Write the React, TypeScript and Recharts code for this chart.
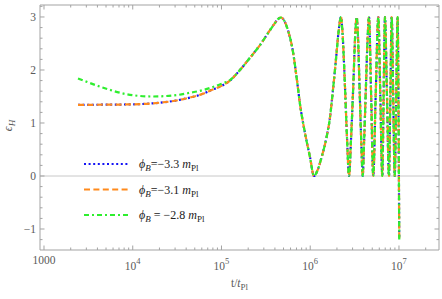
import React from 'react';
import { LineChart, Line, XAxis, YAxis, ReferenceLine, Legend, Label } from 'recharts';

// log10(t / t_Pl) where the three runs still differ
const logTEarly = [3.383, 3.66, 3.94, 4.22, 4.51, 4.645, 4.79, 4.87, 5.0, 5.096];
const eps33Early = [1.34, 1.345, 1.35, 1.37, 1.43, 1.48, 1.55, 1.61, 1.7, 1.8];
const eps31Early = [1.34, 1.345, 1.35, 1.37, 1.43, 1.48, 1.55, 1.61, 1.7, 1.8];
const eps28Early = [1.84, 1.67, 1.54, 1.5, 1.53, 1.57, 1.62, 1.66, 1.74, 1.81];

// after ~1.5e5 all three curves sit on top of each other
const logTLate = [
  5.208, 5.321, 5.434, 5.546, 5.6, 5.637, 5.67, 5.7, 5.749, 5.806, 5.851, 5.885, 5.941, 5.997,
  6.042, 6.085, 6.129, 6.185, 6.223, 6.256, 6.29, 6.318, 6.346, 6.36, 6.39, 6.415, 6.437, 6.46,
  6.485, 6.508, 6.523, 6.535, 6.557, 6.576, 6.591, 6.607, 6.627, 6.648, 6.662, 6.686, 6.71,
  6.738, 6.767, 6.79, 6.812, 6.827, 6.842, 6.865, 6.887, 6.903, 6.918, 6.935, 6.952, 6.969,
  6.985, 6.995, 7.003,
];
const epsLate = [
  2.0, 2.23, 2.47, 2.75, 2.88, 2.96, 2.99, 2.95, 2.75, 2.34, 1.8, 1.35, 0.81, 0.36,
  0, 0.12, 0.36, 0.74, 1.11, 1.62, 2.2, 2.7, 3.0, 2.8, 1.75, 0.7, 0, 0.7,
  1.7, 2.7, 3.0, 2.75, 1.6, 0.6, 0, 0.65, 1.65, 2.65, 3.0, 1.55, 0,
  1.55, 3.0, 1.5, 0, 1.5, 3.0, 1.5, 0, 1.5, 3.0, 1.5, 0, 1.5,
  3.0, 1.2, -1.2,
];

const phiLabels = ['=\u2212' + '3.3', '=\u2212' + '3.1', '\u00a0=\u00a0\u2212' + '2.8'];
const seriesKeys = ['b33', 'b31', 'b28'];
const seriesColors = ['#1414f5', '#ff8a1c', '#2eee2e'];
const seriesDash = ['2 2.6', '6 3.4', '5 3 2 3'];

const xMin = 901.6;
const xMax = 2.825e7;
const yMin = -1.396;
const yMax = 3.226;

const xTicks: number[] = [];
for (const d of [3, 4, 5, 6, 7]) {
  for (const m of [1, 2, 3, 4, 5, 6, 7, 8, 9]) {
    const v = m * 10 ** d;
    if (v >= xMin && v <= xMax) xTicks.push(v);
  }
}
const yTicks = [-1.2, -1, -0.8, -0.6, -0.4, -0.2, 0, 0.2, 0.4, 0.6, 0.8, 1, 1.2, 1.4, 1.6, 1.8, 2, 2.2, 2.4, 2.6, 2.8, 3, 3.2];

const rows = logTEarly
  .map((l, i) => ({ t: 10 ** l, b33: eps33Early[i], b31: eps31Early[i], b28: eps28Early[i] }))
  .concat(logTLate.map((l, i) => ({ t: 10 ** l, b33: epsLate[i], b31: epsLate[i], b28: epsLate[i] })));

const frame = '#a3a3a3';
const serif = '"Liberation Serif", "DejaVu Serif", serif';
const tickFill = '#5a5a5a';

const isDecade = (v: number) => Math.abs(Math.log10(v) - Math.round(Math.log10(v))) < 1e-6;
const isInt = (v: number) => Math.abs(v - Math.round(v)) < 1e-6;

const BottomTick = (p: any) => {
  const v = p.payload.value;
  const major = isDecade(v);
  const exp = Math.round(Math.log10(v));
  return (
    <g>
      <line x1={p.x} x2={p.x} y1={p.y} y2={p.y - (major ? 4.5 : 2.5)} stroke={frame} />
      {major && exp === 3 && (
        <text x={p.x} y={p.y + 14} textAnchor="middle" fontFamily={serif} fontSize={11.5} fill={tickFill}>1000</text>
      )}
      {major && exp > 3 && (
        <text x={p.x} y={p.y + 20} textAnchor="middle" fontFamily={serif} fontSize={11.5} fill={tickFill}>
          <tspan>10</tspan>
          <tspan dy={-6} fontSize={8.5}>{exp}</tspan>
        </text>
      )}
    </g>
  );
};

const TopTick = (p: any) => {
  const major = isDecade(p.payload.value);
  return <line x1={p.x} x2={p.x} y1={p.y} y2={p.y + (major ? 4.5 : 2.5)} stroke={frame} />;
};

const LeftTick = (p: any) => {
  const v = p.payload.value;
  const major = isInt(v);
  const label = v < 0 ? '\u2212' + Math.abs(Math.round(v)) : String(Math.round(v));
  return (
    <g>
      <line x1={p.x} x2={p.x + (major ? 4.5 : 2.5)} y1={p.y} y2={p.y} stroke={frame} />
      {major && (
        <text x={p.x - 4} y={p.y + 4} textAnchor="end" fontFamily={serif} fontSize={11.5} fill={tickFill}>{label}</text>
      )}
    </g>
  );
};

const RightTick = (p: any) => {
  const major = isInt(p.payload.value);
  return <line x1={p.x} x2={p.x - (major ? 4.5 : 2.5)} y1={p.y} y2={p.y} stroke={frame} />;
};

const XTitle = (p: any) => {
  const vb = p.viewBox || { x: 40, y: 250, width: 399, height: 49 };
  return (
    <text x={vb.x + vb.width / 2} y={vb.y + 37} textAnchor="middle" fontFamily={serif} fontSize={11.5} fill={tickFill}>
      <tspan>t/</tspan>
      <tspan fontStyle="italic">t</tspan>
      <tspan dy={3} fontSize={9}>Pl</tspan>
    </text>
  );
};

const YTitle = (p: any) => {
  const vb = p.viewBox || { x: 0, y: 5, width: 40, height: 245 };
  const cx = vb.x + 12;
  const cy = vb.y + vb.height / 2 - 2;
  return (
    <text x={cx} y={cy} transform={`rotate(-90, ${cx}, ${cy})`} textAnchor="middle" fontFamily={serif} fontSize={12} fill={tickFill}>
      <tspan fontStyle="italic">ϵ</tspan>
      <tspan dy={3} fontSize={9} fontStyle="italic">H</tspan>
    </text>
  );
};

const LegendBox = (props: any) => {
  // keep the rows in the order the series were declared
  const items = [...(props.payload || [])].sort(
    (a: any, b: any) => seriesKeys.indexOf(String(a.dataKey)) - seriesKeys.indexOf(String(b.dataKey)),
  );
  return (
    <svg width={140} height={76} style={{ display: 'block', overflow: 'visible' }}>
      {items.map((it: any) => {
        const i = seriesKeys.indexOf(String(it.dataKey));
        const y = 12 + i * 25.5;
        return (
          <g key={String(it.dataKey)}>
            <line x1={0} x2={46} y1={y} y2={y} stroke={seriesColors[i]} strokeWidth={2.2} strokeDasharray={seriesDash[i]} />
            <text x={55} y={y + 4} fontFamily={serif} fontSize={12} fill="#222" style={{ whiteSpace: 'pre' }}>
              <tspan fontStyle="italic">ϕ</tspan>
              <tspan dy={3} fontSize={9} fontStyle="italic">B</tspan>
              <tspan dy={-3}>{phiLabels[i] + '\u00a0'}</tspan>
              <tspan fontStyle="italic">m</tspan>
              <tspan dy={3} fontSize={9}>Pl</tspan>
            </text>
          </g>
        );
      })}
    </svg>
  );
};

export default function App() {
  return (
    <div style={{ position: 'absolute', left: 0, top: 0, width: 442, height: 299, background: '#fff' }}>
      <LineChart width={442} height={299} data={rows} margin={{ top: 0, right: 0, bottom: 0, left: 0 }}>
        <XAxis
          dataKey="t" type="number" scale="log" domain={[xMin, xMax]} allowDataOverflow
          ticks={xTicks} interval={0} height={49} tickSize={0} tickMargin={0} tickLine={false}
          axisLine={{ stroke: frame }} tick={BottomTick}
        >
          <Label content={XTitle} />
        </XAxis>
        <XAxis
          xAxisId="top" orientation="top" dataKey="t" type="number" scale="log" domain={[xMin, xMax]}
          allowDataOverflow ticks={xTicks} interval={0} height={5} tickSize={0} tickMargin={0}
          tickLine={false} axisLine={{ stroke: frame }} tick={TopTick}
        />
        <YAxis
          type="number" domain={[yMin, yMax]} allowDataOverflow ticks={yTicks} interval={0} width={40}
          tickSize={0} tickMargin={0} tickLine={false} axisLine={{ stroke: frame }} tick={LeftTick}
        >
          <Label content={YTitle} />
        </YAxis>
        <YAxis
          yAxisId="right" orientation="right" type="number" domain={[yMin, yMax]} allowDataOverflow
          ticks={yTicks} interval={0} width={3} tickSize={0} tickMargin={0} tickLine={false}
          axisLine={{ stroke: frame }} tick={RightTick}
        />
        <ReferenceLine y={0} stroke="#c8c8c8" strokeWidth={1} />
        {seriesKeys.map((k, i) => (
          <Line
            key={k} dataKey={k} type="monotone" stroke={seriesColors[i]} strokeWidth={2.2}
            strokeDasharray={seriesDash[i]} dot={false} activeDot={false} isAnimationActive={false}
          />
        ))}
        <Legend
          layout="vertical" align="center" verticalAlign="middle" content={LegendBox}
          wrapperStyle={{ left: 84, top: 152, width: 140, height: 76 }}
        />
      </LineChart>
    </div>
  );
}
